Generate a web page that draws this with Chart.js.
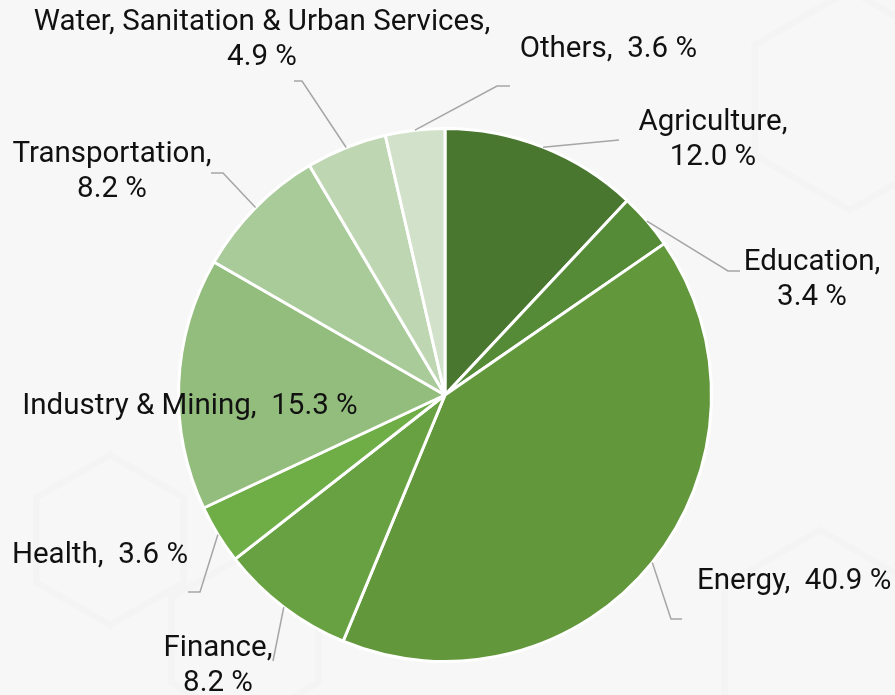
<!DOCTYPE html>
<html>
<head>
<meta charset="utf-8">
<script src="https://cdn.jsdelivr.net/npm/chart.js@4/dist/chart.umd.min.js"></script>
<style>
  html, body { margin: 0; padding: 0; background: #f7f7f7; }
  #wrap { width: 895px; height: 695px; position: relative; }
</style>
</head>
<body>
<div id="wrap"><canvas id="sectorChart" width="895" height="695"></canvas></div>
<script>
// Sector shares (%)
const sectors = [
  "Agriculture", "Education", "Energy", "Finance", "Health",
  "Industry & Mining", "Transportation", "Water, Sanitation & Urban Services", "Others"
];
const shares = [12.0, 3.4, 40.9, 8.2, 3.6, 15.3, 8.2, 4.9, 3.6];
const sliceColors = [
  "#4a7730", "#558a36", "#62973b", "#68a142", "#6fad47",
  "#93bd7c", "#a9ca99", "#bfd6b3", "#d2e1ca"
];

// where each label sits and how its leader line bends (canvas px)
const labelLayout = [
  { lines: ["Agriculture,", "12.0 %"], x: 713, y: 123, align: "center", path: [[619, 140]] },
  { lines: ["Education,", "3.4 %"], x: 812, y: 263, align: "center", path: [[728, 271], [740, 271]] },
  { lines: ["Energy,  40.9 %"], x: 697, y: 582, align: "left", path: [[671, 619], [682, 619]] },
  { lines: ["Finance,", "8.2 %"], x: 218, y: 649, align: "center", path: [[273, 661]] },
  { lines: ["Health,  3.6 %"], x: 188, y: 556, align: "right", path: [[200, 592], [188, 592]] },
  { lines: ["Industry & Mining,  15.3 %"], x: 190, y: 407, align: "center", path: null },
  { lines: ["Transportation,", "8.2 %"], x: 112, y: 155, align: "center", path: [[223, 173], [211, 173]] },
  { lines: ["Water, Sanitation & Urban Services,", "4.9 %"], x: 262, y: 23, align: "center", path: [[302, 81], [294, 81]] },
  { lines: ["Others,  3.6 %"], x: 697, y: 50, align: "right", path: [[497, 86], [510, 86]] }
];

const bgPlugin = {
  id: "bgPlugin",
  beforeDraw(chart) {
    const ctx = chart.ctx;
    ctx.save();
    ctx.fillStyle = "#f7f7f7";
    ctx.fillRect(0, 0, chart.width, chart.height);
    // faint hexagon watermark
    ctx.strokeStyle = "rgba(0,0,0,0.012)";
    ctx.lineWidth = 7;
    const hex = (cx, cy, r) => {
      ctx.beginPath();
      for (let i = 0; i < 6; i++) {
        const a = Math.PI / 6 + i * Math.PI / 3;
        const px = cx + r * Math.cos(a), py = cy + r * Math.sin(a);
        if (i === 0) ctx.moveTo(px, py); else ctx.lineTo(px, py);
      }
      ctx.closePath();
      ctx.stroke();
    };
    hex(110, 540, 85);
    hex(245, 640, 85);
    hex(850, 100, 110);
    hex(820, 640, 110);
    ctx.restore();
  }
};

const labelPlugin = {
  id: "labelPlugin",
  afterDatasetsDraw(chart) {
    const ctx = chart.ctx;
    const arcs = chart.getDatasetMeta(0).data;
    ctx.save();
    arcs.forEach((arc, i) => {
      const lay = labelLayout[i];
      const p = arc.getProps(["x", "y", "startAngle", "endAngle", "outerRadius"], true);
      const mid = (p.startAngle + p.endAngle) / 2;
      if (lay.path) {
        ctx.strokeStyle = "#a6a6a6";
        ctx.lineWidth = 1.5;
        ctx.beginPath();
        ctx.moveTo(p.x + Math.cos(mid) * p.outerRadius, p.y + Math.sin(mid) * p.outerRadius);
        lay.path.forEach(pt => ctx.lineTo(pt[0], pt[1]));
        ctx.stroke();
      }
      ctx.fillStyle = "#111111";
      ctx.font = "29.5px Roboto";
      ctx.textAlign = lay.align;
      ctx.textBaseline = "middle";
      lay.lines.forEach((t, k) => ctx.fillText(t, lay.x, lay.y + k * 35));
    });
    ctx.restore();
  }
};

new Chart(document.getElementById("sectorChart").getContext("2d"), {
  type: "pie",
  data: {
    labels: sectors,
    datasets: [{
      data: shares,
      backgroundColor: sliceColors,
      borderColor: "#ffffff",
      borderWidth: 3
    }]
  },
  options: {
    responsive: false,
    animation: false,
    layout: { padding: { top: 127, bottom: 32, left: 177, right: 182 } },
    plugins: {
      legend: { display: false },
      tooltip: { enabled: false }
    }
  },
  plugins: [bgPlugin, labelPlugin]
});
</script>
</body>
</html>
